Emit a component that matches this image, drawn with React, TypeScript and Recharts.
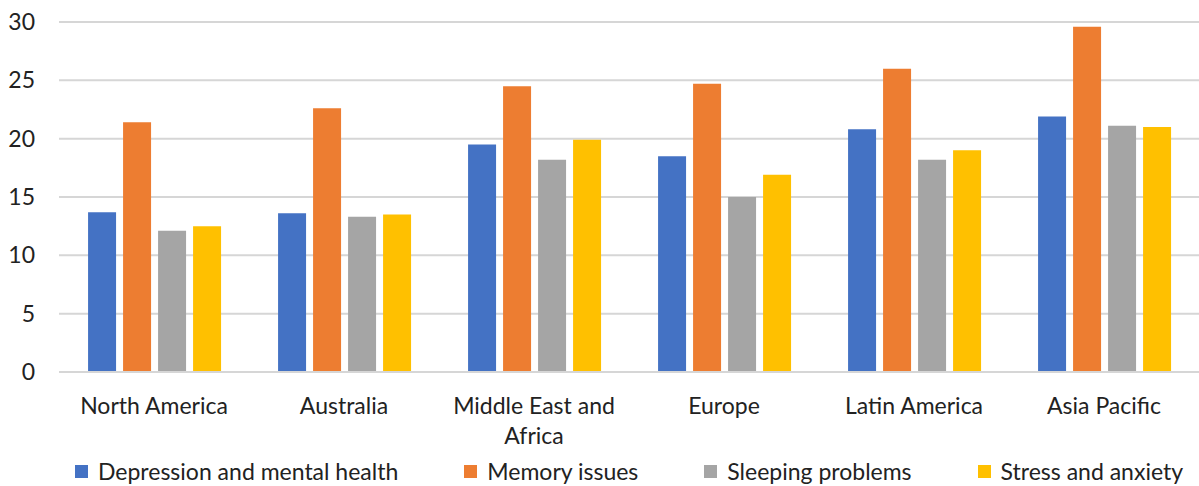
import React from "react";
import { BarChart, Bar, XAxis, YAxis, CartesianGrid, Legend } from "recharts";

const categories = ["North America", "Australia", "Middle East and Africa", "Europe", "Latin America", "Asia Pacific"];
const depression = [13.7, 13.6, 19.5, 18.5, 20.8, 21.9];
const memory = [21.4, 22.6, 24.5, 24.7, 26.0, 29.6];
const sleeping = [12.1, 13.3, 18.2, 15.0, 18.2, 21.1];
const stress = [12.5, 13.5, 19.9, 16.9, 19.0, 21.0];
const yTicks = [0, 5, 10, 15, 20, 25, 30];

const seriesNames = ["Depression and mental health", "Memory issues", "Sleeping problems", "Stress and anxiety"];
const seriesKeys = ["depression", "memory", "sleeping", "stress"];
const colors = ["#4472C4", "#ED7D31", "#A5A5A5", "#FFC000"];

const data = categories.map((c, i) => ({
  name: c,
  depression: depression[i],
  memory: memory[i],
  sleeping: sleeping[i],
  stress: stress[i],
}));

const FONT = "Lato, 'Open Sans', sans-serif";

function wrapWords(s: string, maxChars: number): string[] {
  const words = s.split(" ");
  const lines: string[] = [];
  let cur = "";
  for (const w of words) {
    const next = cur ? cur + " " + w : w;
    if (next.length > maxChars && cur) {
      lines.push(cur);
      cur = w;
    } else {
      cur = next;
    }
  }
  if (cur) lines.push(cur);
  return lines;
}

const XTick = (props: any) => {
  const { x, y, payload } = props;
  const lines = wrapWords(String(payload.value), 16);
  return (
    <text x={x} y={y + 26} textAnchor="middle" fontSize={23} fontFamily={FONT} fill="#222">
      {lines.map((l, i) => (
        <tspan key={i} x={x} dy={i === 0 ? "0.355em" : 30}>
          {l}
        </tspan>
      ))}
    </text>
  );
};

const LegendContent = () => (
  <div style={{ display: "flex", flexWrap: "nowrap", justifyContent: "flex-start", paddingLeft: 75, fontFamily: FONT, fontSize: 23, color: "#222", whiteSpace: "nowrap", lineHeight: "26px" }}>
    {seriesNames.map((n, i) => (
      <div key={n} style={{ display: "flex", alignItems: "center", marginRight: 66, flexShrink: 0 }}>
        <span style={{ display: "inline-block", width: 13, height: 13, background: colors[i], marginRight: 10 }} />
        <span>{n}</span>
      </div>
    ))}
  </div>
);

export default function App() {
  return (
    <div style={{ position: "absolute", left: 0, top: 0, width: 1199, height: 486, background: "#fff", overflow: "hidden" }}>
      <BarChart
        width={1199}
        height={486}
        data={data}
        margin={{ top: 22, right: 0, left: 0, bottom: 0 }}
        barCategoryGap="15.3%"
        barGap={7}
      >
        <CartesianGrid vertical={false} stroke="#d6d6d6" strokeWidth={2} />
        <XAxis
          dataKey="name"
          height={86}
          interval={0}
          tickLine={false}
          axisLine={{ stroke: "#d6d6d6", strokeWidth: 2 }}
          tick={<XTick />}
        />
        <YAxis
          width={59}
          domain={[0, 30]}
          ticks={yTicks}
          axisLine={false}
          tickLine={false}
          tickMargin={18}
          tick={{ fontSize: 23, fontFamily: FONT, fill: "#222" }}
        />
        <Legend verticalAlign="bottom" height={28} content={<LegendContent />} />
        {seriesKeys.map((k, i) => (
          <Bar key={k} dataKey={k} name={seriesNames[i]} fill={colors[i]} isAnimationActive={false} />
        ))}
      </BarChart>
    </div>
  );
}
